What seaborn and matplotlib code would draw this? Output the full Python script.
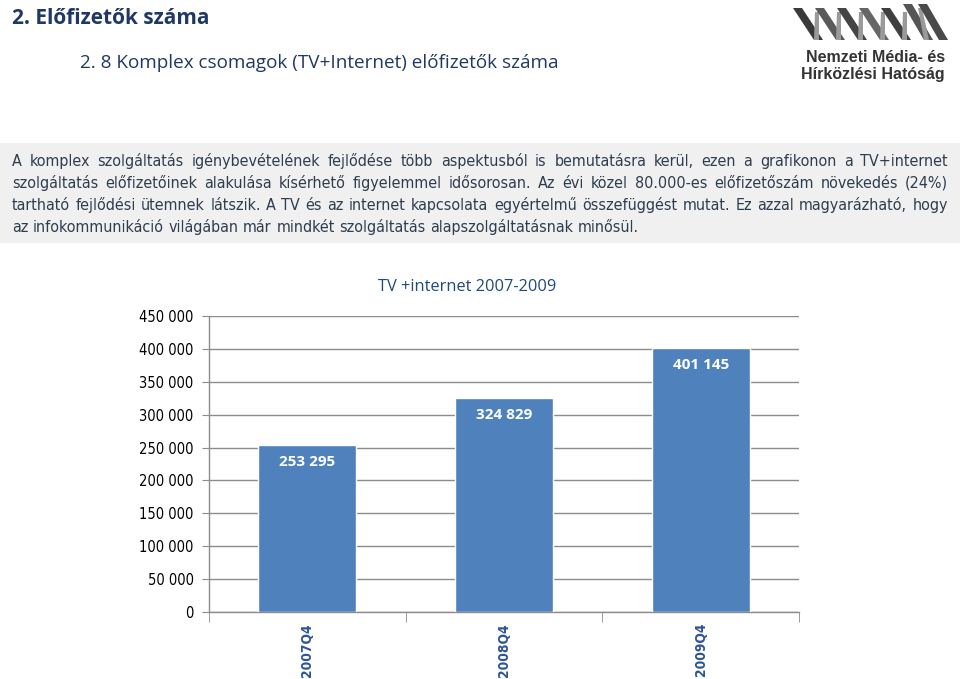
import matplotlib
matplotlib.use("Agg")
import matplotlib.pyplot as plt
from matplotlib.ticker import FixedLocator
from matplotlib.patches import Polygon
from matplotlib.font_manager import FontProperties, findfont
import seaborn as sns
import pandas as pd

# adatok
periods = ["2007Q4", "2008Q4", "2009Q4"]
subscribers = [253295, 324829, 401145]
y_ticks = [0, 50000, 100000, 150000, 200000, 250000, 300000, 350000, 400000, 450000]

chart_title = "TV +internet 2007-2009"
header = "2. Előfizetők száma"
subheader = "2. 8 Komplex csomagok (TV+Internet) előfizetők száma"
paragraph = [
    "A komplex szolgáltatás igénybevételének fejlődése több aspektusból is bemutatásra kerül, ezen a grafikonon a TV+internet",
    "szolgáltatás előfizetőinek alakulása kísérhető  figyelemmel idősorosan. Az évi közel 80.000-es előfizetőszám növekedés (24%)",
    "tartható  fejlődési ütemnek látszik. A TV és az internet kapcsolata egyértelmű összefüggést mutat. Ez azzal magyarázható, hogy",
    "az infokommunikáció világában már mindkét szolgáltatás alapszolgáltatásnak minősül.",
]


def hu(v):
    return f"{int(v):,}".replace(",", " ")


sns.set_style("white")
plt.rcParams["font.family"] = ["DejaVu Sans"]

# keskeny betű, ha van
cond = findfont(FontProperties(family="DejaVu Sans", stretch="condensed"))
if "ondensed" in cond:
    narrow = dict(family=["DejaVu Sans"], fontstretch="condensed")
else:
    narrow = dict(family=["Lato", "DejaVu Sans"])

W, H = 960, 679
fig = plt.figure(figsize=(9.6, 6.79), dpi=100)

navy = "#1F3864"
textcol = "#2E3D4F"


def fx(x):
    return x / W


def fy(y):
    return 1 - y / H


# fejléc
fig.text(fx(12), fy(19), header, fontsize=15, fontweight="bold", color=navy,
         va="center", family=["Open Sans", "DejaVu Sans"])
fig.text(fx(80), fy(63), subheader, fontsize=13.6, color=navy,
         va="center", family=["Open Sans", "DejaVu Sans"])

# logó
stripe_cols = ["#3a3a3a", "#5a5a5a", "#444444", "#666666", "#3f3f3f", "#555555", "#4a4a4a"]
starts = [793, 815, 837, 859, 881, 903, 918]
for i, x0 in enumerate(starts):
    top = 8 if i < 5 else 4
    band = [(x0, top), (x0 + 9, top), (x0 + 30, 40), (x0 + 21, 40)]
    fig.patches.append(Polygon([(fx(a), fy(b)) for a, b in band], closed=True,
                               transform=fig.transFigure, facecolor=stripe_cols[i],
                               edgecolor="none"))
    if i < len(starts) - 1:
        link = [(x0 + 21, 40), (x0 + 26, 40), (starts[i + 1] + 4, top + 4), (starts[i + 1], top + 4)]
        fig.patches.append(Polygon([(fx(a), fy(b)) for a, b in link], closed=True,
                                   transform=fig.transFigure, facecolor="#9a9a9a",
                                   edgecolor="none"))
fig.text(fx(945), fy(57), "Nemzeti Média- és", fontsize=11.5, fontweight="bold",
         color="#333333", ha="right", va="center", family=["Liberation Sans", "DejaVu Sans"])
fig.text(fx(945), fy(74), "Hírközlési Hatóság", fontsize=11.5, fontweight="bold",
         color="#333333", ha="right", va="center", family=["Liberation Sans", "DejaVu Sans"])

# szürke szövegdoboz
box = [(0, 143), (960, 143), (960, 243), (0, 243)]
fig.patches.append(Polygon([(fx(a), fy(b)) for a, b in box], closed=True,
                           transform=fig.transFigure, facecolor="#F0F0F0",
                           edgecolor="none", zorder=0))

baselines = [166, 188, 210, 232]
left, right = 12, 948
fig.canvas.draw()
renderer = fig.canvas.get_renderer()

# betűméret úgy, hogy a sorok kiférjenek
size = 11.8
probe = fig.text(0, 0, "", fontsize=size, **narrow)
while size > 7:
    probe.set_fontsize(size)
    ok = True
    for line in paragraph:
        probe.set_text(line)
        if probe.get_window_extent(renderer).width > right - left - 2:
            ok = False
            break
    if ok:
        break
    size -= 0.25
probe.remove()

for i, (line, y) in enumerate(zip(paragraph, baselines)):
    words = line.split()
    arts = [fig.text(0, fy(y), w, fontsize=size, color=textcol, va="baseline", **narrow)
            for w in words]
    widths = [a.get_window_extent(renderer).width for a in arts]
    if i < len(paragraph) - 1:
        gap = (right - left - sum(widths)) / (len(words) - 1)
    else:
        p1 = fig.text(0, 0, "a a", fontsize=size, **narrow)
        p2 = fig.text(0, 0, "aa", fontsize=size, **narrow)
        gap = p1.get_window_extent(renderer).width - p2.get_window_extent(renderer).width
        p1.remove()
        p2.remove()
    x = left
    for a, w in zip(arts, widths):
        a.set_x(fx(x))
        x += w + gap

# diagram
ax = fig.add_axes([fx(209), fy(612), fx(799 - 209), (612 - 316) / H])
df = pd.DataFrame({"period": periods, "subscribers": subscribers})
sns.barplot(data=df, x="period", y="subscribers", color="#4F81BD", width=0.5,
            saturation=1, ax=ax, zorder=3)
ax.set_xlim(-0.5, len(periods) - 0.5)
ax.set_ylim(0, 450000)
ax.set_yticks(y_ticks, labels=[hu(v) for v in y_ticks], fontsize=10.5,
              color="black", **narrow)
ax.grid(axis="y", color="#8C8C8C", linewidth=1, zorder=0)
ax.set_axisbelow(True)
for s in ["top", "right"]:
    ax.spines[s].set_visible(False)
for s in ["left", "bottom"]:
    ax.spines[s].set_color("#8C8C8C")
    ax.spines[s].set_linewidth(1)
ax.tick_params(axis="y", length=5, color="#8C8C8C", left=True, pad=6)
ax.set_xticks(range(len(periods)))
ax.set_xticklabels(periods, rotation=90, fontsize=9.8, fontweight="bold",
                   color="#2F5597", **narrow)
ax.tick_params(axis="x", length=0, pad=8)
ax.xaxis.set_minor_locator(FixedLocator([i - 0.5 for i in range(len(periods) + 1)]))
ax.tick_params(axis="x", which="minor", length=7, color="#8C8C8C", bottom=True)
ax.set_xlabel("")
ax.set_ylabel("")

ax.bar_label(ax.containers[0], labels=[hu(v) for v in subscribers],
             padding=-17, color="white", fontweight="bold", fontsize=11,
             family=["Open Sans", "DejaVu Sans"])

fig.text(fx(467), fy(287), chart_title, fontsize=11.8, color="#1F497D",
         ha="center", va="center", family=["Open Sans", "DejaVu Sans"])

fig.savefig("out.png", dpi=100)
